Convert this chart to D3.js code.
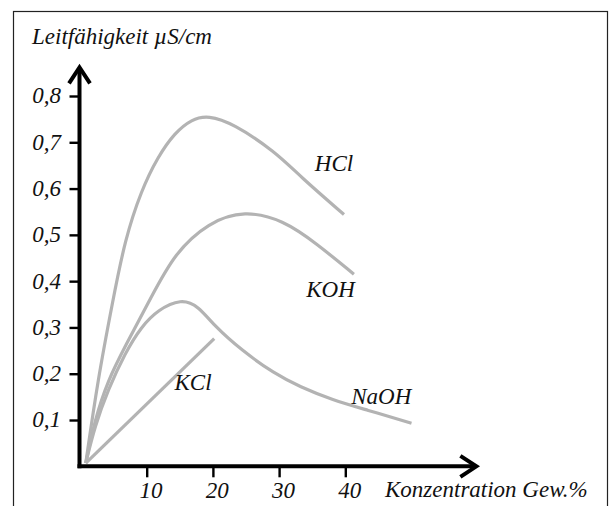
<!DOCTYPE html>
<html lang="de">
<head>
  <meta charset="utf-8">
  <title>Leitfähigkeit</title>
  <style>
    html, body { margin:0; padding:0; background:#fff; overflow:hidden; }
  </style>
</head>
<body>
  <svg id="chart" width="611" height="506"></svg>
  <script src="https://d3js.org/d3.v7.min.js"></script>
  <script>
    // Werte
    const xTicks = [10, 20, 30, 40];
    const yTicks = [0.1, 0.2, 0.3, 0.4, 0.5, 0.6, 0.7, 0.8];

    const hclX = [0.8, 2.6, 4.9, 6.7, 9.2, 11.7, 14.2, 16.8, 19.3, 23.0, 29.4, 33.2, 39.8];
    const hclY = [0.007, 0.186, 0.359, 0.489, 0.597, 0.669, 0.72, 0.75, 0.758, 0.741, 0.68, 0.626, 0.544];

    const kohX = [0.8, 2.15, 4.15, 6.7, 10.7, 14.2, 19.3, 24.8, 30.6, 35.6, 41.3];
    const kohY = [0.007, 0.1, 0.186, 0.258, 0.366, 0.46, 0.527, 0.553, 0.532, 0.482, 0.415];

    const naohX = [0.8, 2.15, 4.15, 6.7, 9.2, 11.7, 15.2, 17.75, 20.3, 24.3, 29.3, 33.1, 38.1, 43.2, 50.0];
    const naohY = [0.007, 0.086, 0.165, 0.244, 0.302, 0.338, 0.362, 0.347, 0.302, 0.251, 0.2, 0.172, 0.143, 0.122, 0.093];

    const kclX = [0.8, 20.2];
    const kclY = [0.007, 0.276];

    const seriesNames = ["HCl", "KOH", "NaOH", "KCl"];
    // Position der Beschriftung (Datenkoordinaten)
    const labelX = [35.4, 34.1, 40.9, 14.2];
    const labelY = [0.638, 0.366, 0.135, 0.165];

    const FONT = "'Liberation Serif', 'Times New Roman', Times, serif";
    const FS = "23px";

    const series = [[hclX, hclY], [kohX, kohY], [naohX, naohY], [kclX, kclY]]
      .map(([xs, ys], i) => ({ name: seriesNames[i], pts: xs.map((v, j) => [v, ys[j]]) }));

    const svg = d3.select("#chart");

    const x = d3.scaleLinear().domain([0, 50]).range([80.5, 411.5]);
    const y = d3.scaleLinear().domain([0, 0.8]).range([466.3, 96]);

    const txt = sel => sel.style("font-family", FONT).style("font-style", "italic")
      .style("font-size", FS).attr("fill", "#111");

    // Rahmen
    svg.append("rect")
      .attr("x", 13.5).attr("y", 11.5)
      .attr("width", 594).attr("height", 520)
      .attr("fill", "none").attr("stroke", "#222").attr("stroke-width", 1.2);

    // Titel
    svg.append("text")
      .attr("x", 32).attr("y", 44)
      .call(txt)
      .text("Leitfähigkeit µS/cm");

    // Kurven
    const line = d3.line()
      .x(d => x(d[0])).y(d => y(d[1]))
      .curve(d3.curveBasis);

    svg.append("g").selectAll("path")
      .data(series)
      .join("path")
      .attr("d", d => line(d.pts))
      .attr("fill", "none")
      .attr("stroke", "#b3b3b3")
      .attr("stroke-width", 3.2);

    svg.append("g").selectAll("text")
      .data(seriesNames)
      .join("text")
      .attr("x", (d, i) => x(labelX[i]))
      .attr("y", (d, i) => y(labelY[i]))
      .call(txt)
      .text(d => d);

    // y-Achse
    const yAxis = svg.append("g")
      .attr("transform", `translate(${x(0) - 1},0)`)
      .call(d3.axisLeft(y).tickValues(yTicks).tickSize(10).tickPadding(8.5)
        .tickFormat(d => d3.format(".1f")(d).replace(".", ",")));
    yAxis.attr("font-family", null).attr("font-size", null);
    yAxis.select(".domain").remove();
    yAxis.selectAll(".tick line").attr("stroke", "#000").attr("stroke-width", 2.4);
    yAxis.selectAll(".tick text").call(txt).attr("dy", "0.3em");

    // x-Achse
    const xAxis = svg.append("g")
      .attr("transform", `translate(0,${y(0)})`)
      .call(d3.axisBottom(x).tickValues(xTicks).tickSize(11).tickPadding(4.5)
        .tickFormat(d3.format("d")));
    xAxis.attr("font-family", null).attr("font-size", null);
    xAxis.select(".domain").remove();
    xAxis.selectAll(".tick line").attr("stroke", "#000").attr("stroke-width", 2.4);
    xAxis.selectAll(".tick text").call(txt).attr("dx", "0.17em");

    // Achsenlinien mit Pfeil
    const ax0 = x(0) - 1, ay0 = y(0);
    const yTop = y(0.862), xEnd = x(59.8);
    const axisStyle = g => g.attr("fill", "none").attr("stroke", "#000")
      .attr("stroke-width", 4).attr("stroke-linejoin", "miter");
    svg.append("path")
      .attr("d", `M${ax0},${ay0 + 2}V${yTop + 2}`).call(axisStyle);
    svg.append("path")
      .attr("d", `M${ax0 - 2},${ay0}H${xEnd - 2}`).call(axisStyle);
    svg.append("path")
      .attr("d", `M${ax0 - 10.5},${yTop + 16}L${ax0},${yTop}L${ax0 + 10.5},${yTop + 16}`).call(axisStyle);
    svg.append("path")
      .attr("d", `M${xEnd - 16},${ay0 - 10.5}L${xEnd},${ay0}L${xEnd - 16},${ay0 + 10.5}`).call(axisStyle);

    svg.append("text")
      .attr("x", 385).attr("y", 497)
      .call(txt)
      .text("Konzentration Gew.%");
  </script>
</body>
</html>
